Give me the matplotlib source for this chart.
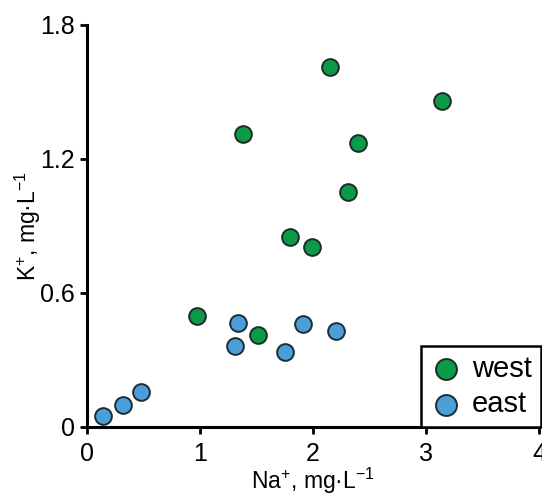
# Na+ vs K+ scatter, west and east sites
import matplotlib
matplotlib.use("Agg")
import matplotlib.pyplot as plt

plt.rcParams['font.family'] = ['Liberation Sans', 'DejaVu Sans']
plt.rcParams['mathtext.fontset'] = 'custom'
plt.rcParams['mathtext.rm'] = 'Liberation Sans'
plt.rcParams['mathtext.it'] = 'Liberation Sans'

# data
west_na = [0.97, 1.38, 1.51, 1.80, 1.99, 2.15, 2.31, 2.40, 3.14]
west_k = [0.495, 1.31, 0.41, 0.85, 0.805, 1.61, 1.05, 1.27, 1.46]
east_na = [0.14, 0.32, 0.48, 1.31, 1.34, 1.75, 1.91, 2.20]
east_k = [0.05, 0.10, 0.157, 0.363, 0.465, 0.335, 0.46, 0.43]

x_ticks = [0, 1, 2, 3, 4]
y_ticks = [0, 0.6, 1.2, 1.8]
y_tick_labels = ["0", "0.6", "1.2", "1.8"]

fig = plt.figure(figsize=(5.42, 4.95), dpi=100)
ax = fig.add_axes([0.1605, 0.1374, 0.834, 0.8121])

ax.scatter(west_na, west_k, s=145, color="#0a9a48", edgecolor="#1c2b25",
           linewidth=1.4, label="west", zorder=3, clip_on=False)
ax.scatter(east_na, east_k, s=145, color="#4a9fd8", edgecolor="#1c2b35",
           linewidth=1.4, label="east", zorder=3, clip_on=False)

ax.set_xlim(0, 4)
ax.set_ylim(0, 1.8)
ax.set_xticks(x_ticks)
ax.set_yticks(y_ticks)
ax.set_yticklabels(y_tick_labels)

for side in ["top", "right"]:
    ax.spines[side].set_visible(False)
for side in ["left", "bottom"]:
    ax.spines[side].set_linewidth(2.2)
ax.tick_params(direction="out", length=5, width=2, labelsize=18)
ax.tick_params(axis="x", pad=6)

ax.set_xlabel(r"Na$^{+}$, mg·L$^{-1}$", fontsize=16.5, labelpad=0)
ax.set_ylabel(r"K$^{+}$, mg·L$^{-1}$", fontsize=16.5, labelpad=-2)

leg = ax.legend(loc="lower left", bbox_to_anchor=(0.739, 0.0), borderaxespad=0,
                fontsize=21, frameon=True, fancybox=False, handletextpad=0.35,
                labelspacing=0.25, borderpad=0.3, handlelength=1.1,
                markerscale=1.25)
leg.get_frame().set_edgecolor("black")
leg.get_frame().set_linewidth(1.8)
leg.get_frame().set_alpha(1)

plt.savefig("out.png", dpi=100)
